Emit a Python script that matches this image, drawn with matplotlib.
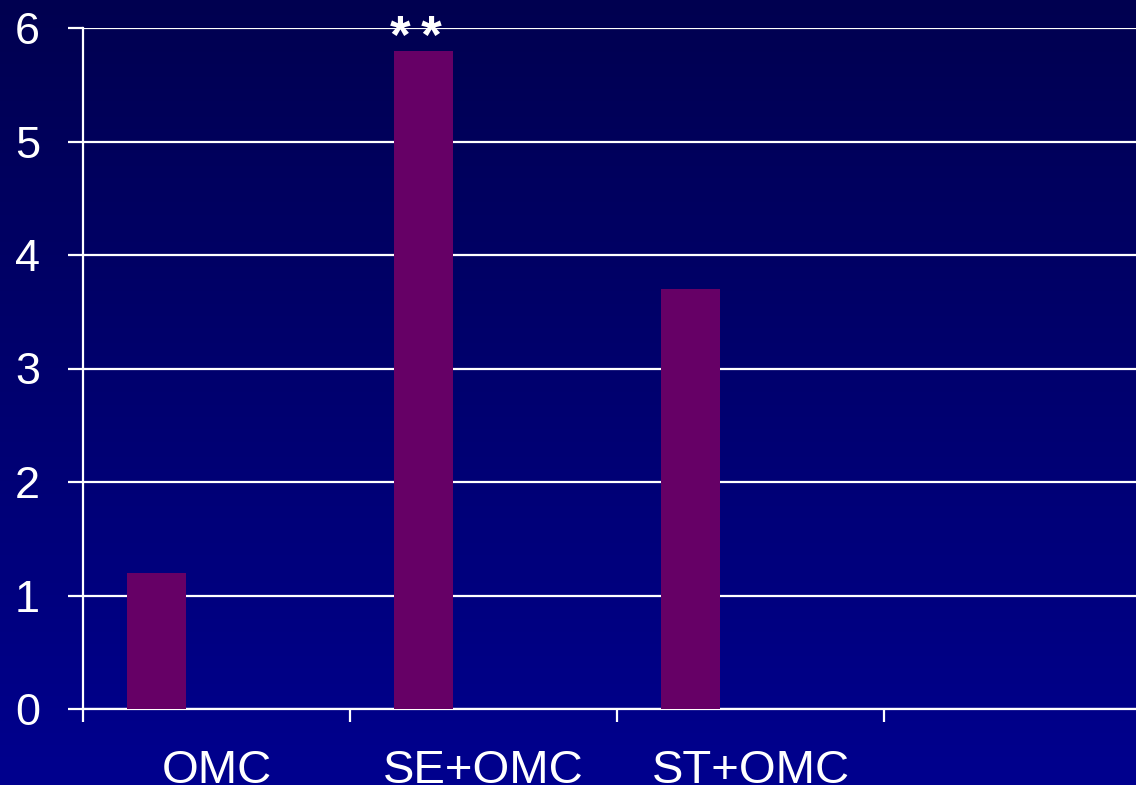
import matplotlib.pyplot as plt
import numpy as np

plt.rcParams['font.family'] = ['Liberation Sans', 'DejaVu Sans']

# Values
groups = ['OMC', 'SE+OMC', 'ST+OMC']
values = [1.2, 5.8, 3.7]
marks = ['', '*\u2009*', '']
y_ticks = [0, 1, 2, 3, 4, 5, 6]

BAR_COLOR = '#660066'
TOP = np.array([0, 0, 80]) / 255
BOTTOM = np.array([0, 0, 142]) / 255

fig = plt.figure(figsize=(11.36, 7.85), dpi=100)

# gradient backdrop over the whole figure
bg = fig.add_axes([0, 0, 1, 1])
t = np.linspace(0, 1, 256)[:, None]
grad = TOP + (BOTTOM - TOP) * t
bg.imshow(grad[:, None, :].repeat(2, axis=1), aspect='auto', extent=[0, 1, 0, 1])
bg.axis('off')

ax = fig.add_axes([83 / 1136, 76 / 785, 1 - 83 / 1136, (757 - 76) / 785])
ax.patch.set_alpha(0)

x = np.arange(len(groups))
offset = (156.5 - 83) / 267
width = 59 / 267
ax.bar(x + offset, values, width=width, color=BAR_COLOR, zorder=3)

# significance marks above bars
for xi, v, m in zip(x, values, marks):
    if m:
        ax.text(xi + offset - 0.028, 5.9, m, color='white', fontsize=38,
                fontweight='bold', ha='center', va='center', zorder=4, clip_on=False)

ax.set_xlim(0, (1136 - 83) / 267)
ax.set_ylim(0, 6)
ax.set_yticks(y_ticks)
ax.yaxis.grid(True, color='white', linewidth=1.6, zorder=1)
ax.set_axisbelow(True)

ax.set_xticks([0, 1, 2, 3])
ax.set_xticklabels([])
ax.set_xticks(x + 0.5, minor=True)
ax.set_xticklabels(groups, minor=True)

ax.tick_params(axis='y', colors='white', labelsize=32.5, length=11, width=1.6,
               pad=20, direction='out')
ax.tick_params(axis='x', which='major', colors='white', length=9.5, width=1.6,
               direction='out')
ax.tick_params(axis='x', which='minor', colors='white', length=0, labelsize=34,
               pad=29)

for side in ['top', 'right']:
    ax.spines[side].set_visible(False)
for side in ['left', 'bottom']:
    ax.spines[side].set_color('white')
    ax.spines[side].set_linewidth(1.6)

fig.savefig('out.png', dpi=100)
